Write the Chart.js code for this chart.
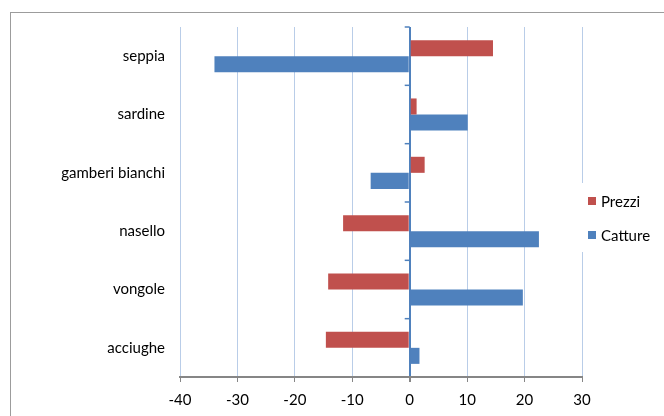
<!DOCTYPE html>
<html>
<head>
<meta charset="utf-8">
<script src="https://cdn.jsdelivr.net/npm/chart.js@4"></script>
<style>
  body { margin: 0; background: #fff; }
  #frame { position: absolute; left: 10px; top: 12px; width: 700px; height: 440px; border: 1px solid #9c9c9c; }
  #wrap { position: absolute; left: 0; top: 0; width: 664px; height: 416px; }
</style>
</head>
<body>
<div id="frame"></div>
<div id="wrap"><canvas id="myChart" width="664" height="416"></canvas></div>
<script>
const categories = ['seppia', 'sardine', 'gamberi bianchi', 'nasello', 'vongole', 'acciughe'];
const prezzi = [14.5, 1.2, 2.6, -11.6, -14.2, -14.6];
const catture = [-34.0, 10.1, -6.8, 22.5, 19.7, 1.7];
const xTicks = [-40, -30, -20, -10, 0, 10, 20, 30];

const FONT = 'Lato, "Liberation Sans", sans-serif';

// legend box on the right plus the small category ticks on the zero line
const extras = {
    id: 'extras',
    afterDatasetsDraw(chart) {
        const ctx = chart.ctx;
        const x = chart.scales.x, y = chart.scales.y;
        const x0 = x.getPixelForValue(0);
        ctx.save();
        ctx.strokeStyle = '#4F81BD';
        ctx.lineWidth = 1.5;
        const step = (y.bottom - y.top) / categories.length;
        for (let i = 0; i < categories.length; i++) {
            const yy = y.top + i * step;
            ctx.beginPath();
            ctx.moveTo(x0 - 5, yy);
            ctx.lineTo(x0, yy);
            ctx.stroke();
        }
        // legend
        const area = chart.chartArea;
        ctx.fillStyle = '#fff';
        ctx.fillRect(area.right - 4, 183, 80, 69);
        const items = chart.data.datasets;
        ctx.font = '15px ' + FONT;
        ctx.textBaseline = 'middle';
        items.forEach((ds, i) => {
            const cy = 201 + i * 34;
            ctx.fillStyle = ds.backgroundColor;
            ctx.fillRect(588, cy - 4, 8, 8);
            ctx.fillStyle = '#000';
            ctx.fillText(ds.label, 601, cy + 1);
        });
        ctx.restore();
    }
};

const data = {
    labels: categories,
    datasets: [{
        label: 'Prezzi',
        backgroundColor: '#C0504D',
        data: prezzi,
    },
    {
        label: 'Catture',
        backgroundColor: '#4F81BD',
        data: catture,
    }]
};

const config = {
    type: 'bar',
    data: data,
    options: {
        indexAxis: 'y',
        responsive: false,
        animation: false,
        categoryPercentage: 0.55,
        barPercentage: 1,
        layout: { padding: { left: 0, top: 27, right: 82, bottom: 0 } },
        plugins: {
            legend: { display: false },
            tooltip: { enabled: false }
        },
        scales: {
            x: {
                min: -40,
                max: 30,
                afterBuildTicks: (s) => { s.ticks = xTicks.map(v => ({ value: v })); },
                afterFit: (s) => { s.height = 39; },
                grid: {
                    color: (c) => c.tick && c.tick.value === 0 ? '#4F81BD' : '#B9CDE8',
                    lineWidth: (c) => c.tick && c.tick.value === 0 ? 2 : 1,
                    tickColor: '#868686',
                    tickLength: 5
                },
                border: { color: '#868686', width: 2 },
                ticks: {
                    color: '#000',
                    font: { family: FONT, size: 15 },
                    padding: 9
                }
            },
            y: {
                afterFit: (s) => { s.width = 180; },
                grid: { display: false, drawTicks: false },
                border: { display: false },
                ticks: {
                    color: '#000',
                    font: { family: FONT, size: 15 },
                    padding: 15
                }
            }
        }
    },
    plugins: [extras]
};

const myChart = new Chart(document.getElementById('myChart'), config);
</script>
</body>
</html>
